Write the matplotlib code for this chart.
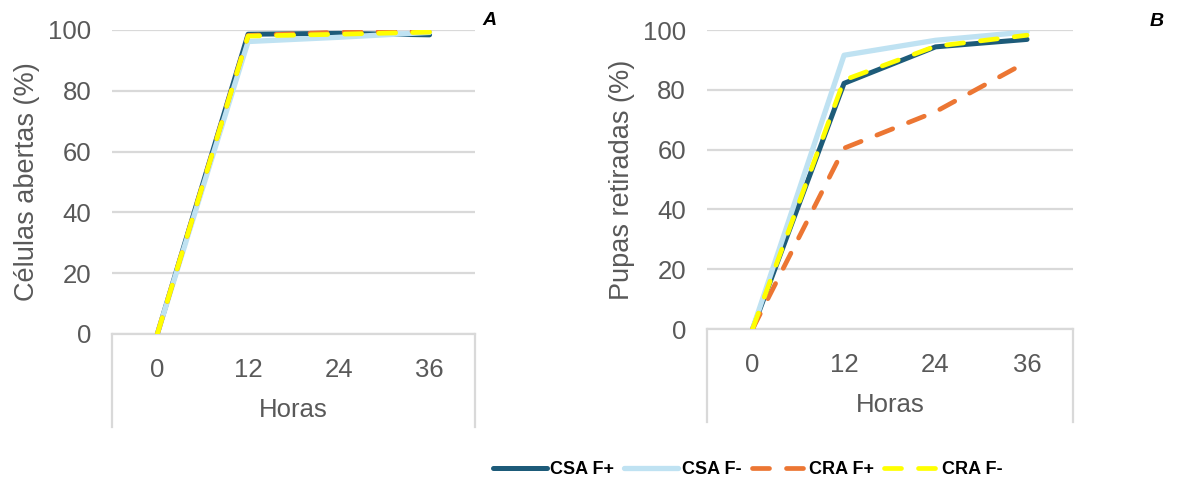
import matplotlib
matplotlib.use("Agg")
import matplotlib.pyplot as plt
from matplotlib.lines import Line2D

plt.rcParams['font.family'] = ['Liberation Sans', 'DejaVu Sans']

horas = ['0', '12', '24', '36']
series = ['CSA F+', 'CSA F-', 'CRA F+', 'CRA F-']

# panel A - open cells (%)
celulas = {
    'CSA F+': [0, 98.6, 98.9, 98.4],
    'CSA F-': [0, 96.2, 97.6, 99.2],
    'CRA F+': [0, 98.2, 99.3, 99.6],
    'CRA F-': [0, 98.0, 98.6, 99.3],
}
# panel B - removed pupae (%)
pupas = {
    'CSA F+': [0, 82.2, 94.4, 96.9],
    'CSA F-': [0, 91.6, 96.6, 99.4],
    'CRA F+': [0, 60.5, 72.7, 89.4],
    'CRA F-': [0, 83.3, 94.6, 98.3],
}

dash = (0, (3.6, 3.6))
styles = {
    'CSA F+': dict(color='#1d5b79', lw=3.6, ls='-'),
    'CSA F-': dict(color='#bfe2f2', lw=3.8, ls='-'),
    'CRA F+': dict(color='#ec7633', lw=3.4, ls=dash),
    'CRA F-': dict(color='#ffff00', lw=3.4, ls=dash),
}

grey = '#595959'
gridc = '#d9d9d9'

fig = plt.figure(figsize=(12, 4.86), dpi=100)
axA = fig.add_axes([0.0933, 0.3128, 0.3025, 0.6255])
axB = fig.add_axes([0.589, 0.323, 0.305, 0.615])


def draw(ax, data, ylabel, letter, letter_x, drop):
    x = range(len(horas))
    for i, s in enumerate(series):
        st = styles[s]
        ax.plot(x, data[s], color=st['color'], lw=st['lw'], ls=st['ls'],
                solid_capstyle='round', dash_capstyle='round', zorder=3 + i)
    ax.set_xlim(-0.5, 3.5)
    ax.set_ylim(0, 100)
    ax.set_yticks(range(0, 101, 20))
    ax.set_xticks(list(x))
    ax.set_xticklabels(horas)
    ax.yaxis.grid(True, color=gridc, lw=1.6)
    ax.set_axisbelow(True)
    for side in ['top', 'right', 'left']:
        ax.spines[side].set_visible(False)
    ax.spines['bottom'].set_color(gridc)
    ax.spines['bottom'].set_linewidth(1.6)
    ax.tick_params(axis='both', length=0, labelsize=18.5, colors=grey)
    ax.tick_params(axis='y', pad=15)
    ax.tick_params(axis='x', pad=17)
    ax.set_xlabel('Horas', fontsize=18.5, color=grey, labelpad=12)
    ax.set_ylabel(ylabel, fontsize=19.5, color=grey, labelpad=6)
    # category axis box under the plot
    for xe in (0, 1):
        ax.plot([xe, xe], [0, -drop], transform=ax.transAxes, color=gridc,
                lw=1.6, clip_on=False)
    ax.text(letter_x, 1.03, letter, transform=ax.transAxes, fontsize=14,
            fontweight='bold', fontstyle='italic', color='black',
            ha='center', va='center')


draw(axA, celulas, 'Células abertas (%)', 'A', 1.04, 0.306)
draw(axB, pupas, 'Pupas retiradas (%)', 'B', 1.23, 0.31)

handles = [Line2D([0], [0], color=styles[s]['color'], lw=styles[s]['lw'],
                  ls=styles[s]['ls'], solid_capstyle='round',
                  dash_capstyle='round') for s in series]
leg = fig.legend(handles, series, loc='center', bbox_to_anchor=(0.623, 0.033),
                 ncol=4, frameon=False, handlelength=3.0, handletextpad=0.2,
                 columnspacing=0.55, prop={'size': 13, 'weight': 'bold'})

fig.savefig('out.png', dpi=100)
